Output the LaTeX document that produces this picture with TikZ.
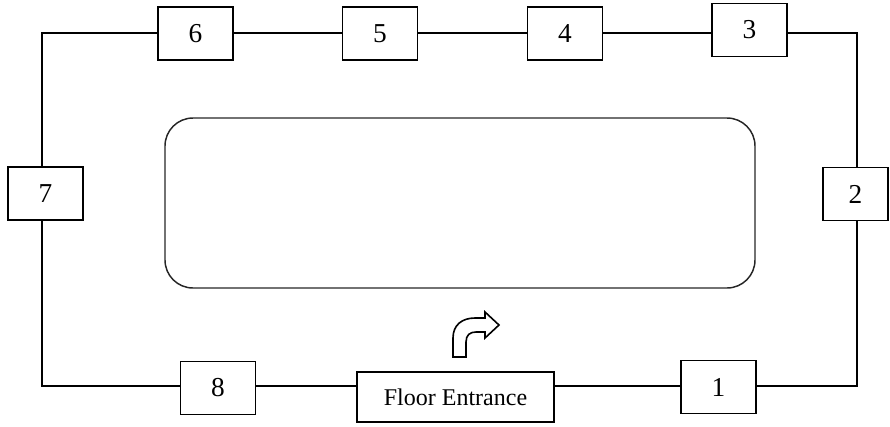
\documentclass[tikz,border=0pt]{standalone}
\usepackage{fontspec}
\setmainfont{Liberation Serif}
\begin{document}
\begin{tikzpicture}[x=0.75pt,y=-0.75pt,
  station/.style={draw,line width=1.3pt,fill=white,minimum width=56.25pt,
    minimum height=39.75pt,inner sep=0pt,font=\fontsize{20.5}{23}\selectfont},
  entrance/.style={draw,line width=1.3pt,fill=white,minimum width=147.75pt,
    minimum height=37.5pt,inner sep=0pt,font=\fontsize{18}{21}\selectfont},
  loop/.style={line width=1.1pt},
  island/.style={draw=black!85,line width=1.1pt,rounded corners=21pt},
  turn/.style={draw,line width=1.2pt,line join=miter}]
\useasboundingbox (0,0) rectangle (890,426);

% corners of the loop
\coordinate (tl) at (42,33);
\coordinate (tr) at (857,33);
\coordinate (bl) at (42,386);
\coordinate (br) at (857,386);

% stations
\node[station] (s6) at (195.5,33.5) {6};
\node[station] (s5) at (380,33.5) {5};
\node[station] (s4) at (565,33.5) {4};
\node[station] (s3) at (749.5,30) {3};
\node[station] (s7) at (45.5,193.5) {7};
\node[station,minimum width=48.75pt] (s2) at (855.5,194) {2};
\node[station] (s8) at (218,388) {8};
\node[station] (s1) at (718.5,387) {1};
\node[entrance] (fe) at (455.5,397) {Floor Entrance};

% loop connections
\draw[loop] (s7.north -| tl) -- (tl) -- (s6.west |- tl);
\draw[loop] (s6.east |- tl) -- (s5.west |- tl);
\draw[loop] (s5.east |- tl) -- (s4.west |- tl);
\draw[loop] (s4.east |- tl) -- (s3.west |- tl);
\draw[loop] (s3.east |- tr) -- (tr) -- (s2.north -| tr);
\draw[loop] (s2.south -| br) -- (br) -- (s1.east |- br);
\draw[loop] (s1.west |- br) -- (fe.east |- br);
\draw[loop] (fe.west |- bl) -- (s8.east |- bl);
\draw[loop] (s8.west |- bl) -- (bl) -- (s7.south -| bl);

% central island
\draw[island] (165,118) rectangle (755,288);

% turn arrow
\draw[turn] (453,357) -- (453,338) .. controls (453,325) and (462,318) .. (475,318)
  -- (485,318) -- (485,312) -- (499,325) -- (485,338) -- (485,332) -- (476,332)
  .. controls (470,332) and (466,335) .. (466,342) -- (466,357) -- cycle;
\end{tikzpicture}
\end{document}
